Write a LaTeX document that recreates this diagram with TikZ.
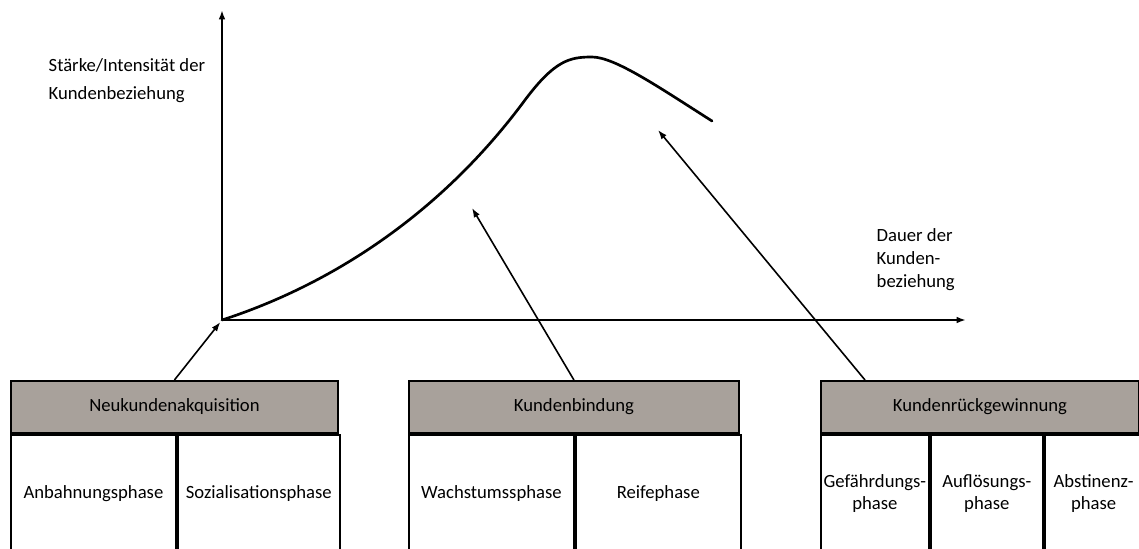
\documentclass[tikz,border=0pt]{standalone}
\usepackage{fontspec}
\setmainfont{Carlito}
\usepackage{xcolor}
\usetikzlibrary{arrows.meta,calc}

\definecolor{headgray}{RGB}{168,161,155}

\begin{document}
\begin{tikzpicture}[x=0.75pt,y=-0.75pt,font=\fontsize{14}{16.5}\selectfont,
    >={Latex[length=7pt,width=5pt]},
    head/.style={draw,fill=headgray,line width=1.4pt,minimum height=39pt,inner sep=0pt,anchor=north west},
    cell/.style={draw,line width=1.4pt,minimum height=88.5pt,inner sep=0pt,align=center,anchor=north west},
    axis/.style={->,line width=1.6pt},
    pointer/.style={->,line width=1.2pt}]
    \clip (0,0) rectangle (1139,549);

    % axes
    \coordinate (o) at (222,320);
    \coordinate (ytop) at (222,10);
    \coordinate (xend) at (966,320);
    \draw[axis] (o) -- (ytop);
    \draw[axis] (o) -- (xend);

    \node[name=ylab, anchor=west, align=left, font=\fontsize{14}{21}\selectfont] at (44,81)
        {Stärke/Intensität der\\Kundenbeziehung};
    \node[name=xlab, anchor=west, align=left, font=\fontsize{14}{17.25}\selectfont] at (872,260)
        {Dauer der\\Kunden-\\beziehung};

    % curve
    \coordinate (bend) at (525,100);
    \coordinate (peak) at (592,57);
    \coordinate (cend) at (712,121);
    \draw[line width=2pt, line cap=round] (o)
        .. controls (330,285) and (440,215) .. (bend)
        .. controls (555,60) and (570,57) .. (peak)
        .. controls (615,57) and (660,88) .. (cend);

    % phase boxes
    \node[head, name=nk, minimum width=245.25pt] at (10,380) {Neukundenakquisition};
    \node[cell, name=an, minimum width=123.75pt] at (nk.south west) {Anbahnungsphase};
    \node[cell, name=sp, minimum width=121.5pt] at (an.north east) {Sozialisationsphase};

    \node[head, name=kb, minimum width=247.5pt] at (408,380) {Kundenbindung};
    \node[cell, name=ws, minimum width=123.75pt] at (kb.south west) {Wachstumssphase};
    \node[cell, name=rf, minimum width=123.75pt] at (ws.north east) {Reifephase};

    \node[head, name=kr, minimum width=238.5pt] at (820,380) {Kundenrückgewinnung};
    \node[cell, name=gf, minimum width=81pt] at (kr.south west) {Gefährdungs-\\phase};
    \node[cell, name=af, minimum width=84pt] at (gf.north east) {Auflösungs-\\phase};
    \node[cell, name=ab, minimum width=73.5pt] at (af.north east) {Abstinenz-\\phase};

    % pointers
    \coordinate (tkb) at (472,208);
    \coordinate (tkr) at (658,130);
    \draw[pointer, shorten >=2pt] (nk.north) -- (o);
    \draw[pointer] (kb.north) -- (tkb);
    \draw[pointer] ($(kr.north west)+(45,0)$) -- (tkr);
\end{tikzpicture}
\end{document}
